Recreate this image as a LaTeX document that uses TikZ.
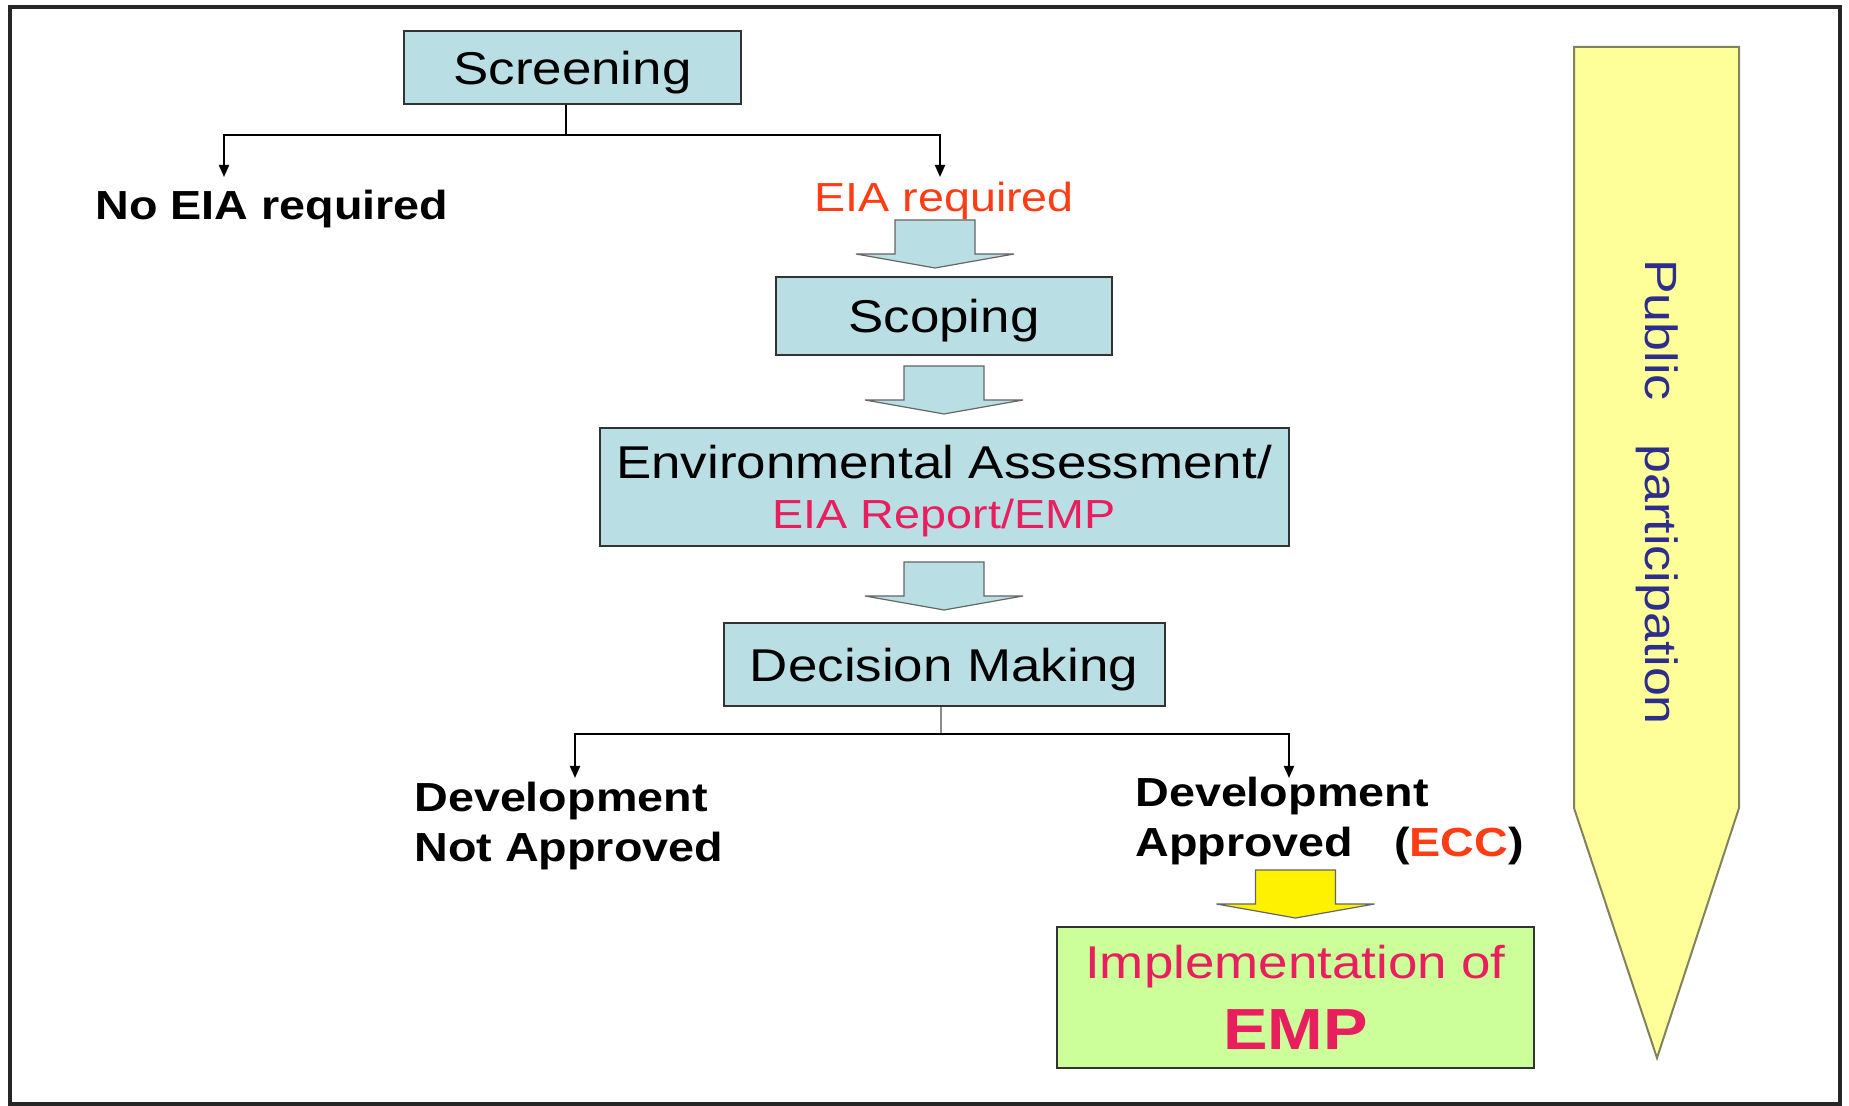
\documentclass[tikz,border=0pt]{standalone}
\usepackage{fontspec}
\setmainfont{Liberation Sans}[FakeStretch=1.15]
\usetikzlibrary{arrows.meta, positioning, calc}

\definecolor{boxblue}{RGB}{185,222,228}
\definecolor{implgreen}{RGB}{204,255,153}
\definecolor{pennantfill}{RGB}{255,255,153}
\definecolor{pennantedge}{RGB}{130,130,95}
\definecolor{eiared}{RGB}{255,60,20}
\definecolor{reportpink}{RGB}{232,30,95}
\definecolor{ppnavy}{RGB}{45,45,140}

\tikzstyle{stage} = [draw=black!80, line width=1pt, fill=boxblue, inner sep=0pt,
   align=center, text depth=0pt, font=\fontsize{23}{25}\selectfont]
\tikzstyle{outcome} = [inner sep=0pt, align=left, font=\bfseries\fontsize{20.3}{25}\selectfont]
\tikzstyle{branch} = [line width=1pt, -{Triangle[length=6pt,width=5pt]}]
\tikzstyle{bluefat} = [fill=boxblue, draw=black!60, line width=0.6pt]
\tikzstyle{yellowfat} = [fill=yellow, draw=black!60, line width=0.6pt]
\tikzset{fatdown/.pic={
  \path[pic actions] (-40,0) -- (40,0) -- (40,34) -- (79,34) -- (0,48)
    -- (-79,34) -- (-40,34) -- cycle;}}

\begin{document}
\begin{tikzpicture}[x=0.5pt, y=-0.5pt]
  \useasboundingbox (0,0) rectangle (1849,1106);
  \draw[line width=1.75pt, black!85] (10,7) rectangle (1840,1104);

  \node[stage, minimum width=168.5pt, minimum height=36.5pt] (screening) at (572.5,68) {Screening};
  \node[outcome, anchor=base west] (noeia) at (95,220) {No EIA required};
  \node[anchor=base west, inner sep=0pt, text=eiared, font=\fontsize{20.3}{25}\selectfont]
    (eiareq) at (814,212) {EIA required};
  \node[stage, minimum width=168pt, minimum height=39pt] (scoping) at (944,316) {Scoping};
  \node[stage, minimum width=344.5pt, minimum height=59pt, below=35.5pt of scoping] (envassess)
    {Environmental Assessment/\\{\color{reportpink}\fontsize{20.3}{25}\selectfont EIA Report/EMP}};
  \node[stage, minimum width=220.5pt, minimum height=41.5pt, below=37.5pt of envassess] (decision)
    {Decision Making};
  \node[outcome, anchor=north west] (notapproved) at (414,782) {Development\\Not Approved};
  \node[outcome, anchor=north west] (approved) at (1135,777)
    {Development\\Approved\hspace{20.5pt}(\textcolor{eiared}{ECC})};
  \node[draw=black!80, line width=1pt, fill=implgreen, minimum width=238.5pt, minimum height=70.5pt,
    inner sep=0pt, align=center, text=reportpink, font=\fontsize{23}{35.5}\selectfont]
    (implement) at (1295.5,997.5) {Implementation of\\{\bfseries\fontsize{29}{35.5}\selectfont EMP}};

  % fat arrows between the stages
  \pic[bluefat] at (935,220) {fatdown};
  \pic[bluefat] at ($(scoping.south)+(0,10)$) {fatdown};
  \pic[bluefat] at ($(envassess.south)+(0,15)$) {fatdown};
  \pic[yellowfat] at ($(implement.north)+(0,-56)$) {fatdown};

  % screening split
  \coordinate (fork1) at ($(screening.south)+(-7,30)$);
  \coordinate (noeiatip) at (224,177);
  \coordinate (eiatip) at (940,177);
  \draw[line width=1pt] (screening.south -| fork1) -- (fork1);
  \draw[branch] (fork1) -| (noeiatip);
  \draw[branch] (fork1) -| (eiatip);

  % decision split
  \coordinate (fork2) at (941,734);
  \coordinate (notapprovedtip) at (575,778);
  \coordinate (approvedtip) at (1289,778);
  \draw[black!45, line width=0.8pt] (decision.south -| fork2) -- (fork2);
  \draw[branch] (fork2) -| (notapprovedtip);
  \draw[branch] (fork2) -| (approvedtip);

  % public participation pennant
  \draw[line width=1pt, draw=pennantedge, fill=pennantfill]
    (1574,47) -- (1739,47) -- (1739,808) -- (1657,1058) -- (1574,808) -- cycle;
  \node[rotate=-90, text=ppnavy, font=\fontsize{22.6}{25}\selectfont] (public) at (1657,492)
    {Public\hspace{22pt}participation};
\end{tikzpicture}
\end{document}
